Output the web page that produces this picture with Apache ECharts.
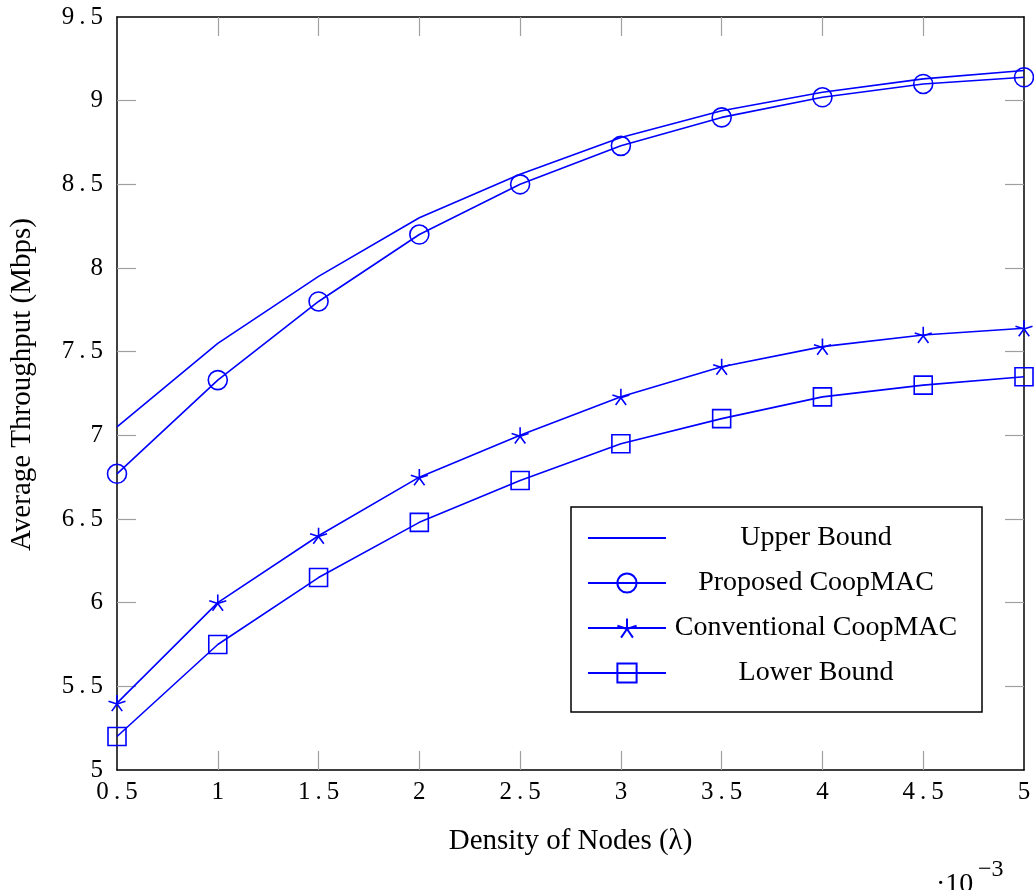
<!DOCTYPE html>
<html>
<head>
<meta charset="utf-8">
<script src="https://cdn.jsdelivr.net/npm/echarts@6/dist/echarts.min.js"></script>
<style>
html,body{margin:0;padding:0;background:#fff;}
#chart{width:1034px;height:890px;}
</style>
</head>
<body>
<div id="chart"></div>
<script>
// ---- data ----
const densities = [0.5, 1, 1.5, 2, 2.5, 3, 3.5, 4, 4.5, 5];
const upperBound = [7.05, 7.55, 7.95, 8.30, 8.56, 8.78, 8.94, 9.05, 9.13, 9.18];
const proposedCoopMAC = [6.77, 7.33, 7.80, 8.20, 8.50, 8.73, 8.90, 9.02, 9.10, 9.14];
const conventionalCoopMAC = [5.40, 6.00, 6.40, 6.75, 7.00, 7.23, 7.41, 7.53, 7.60, 7.64];
const lowerBound = [5.20, 5.75, 6.15, 6.48, 6.73, 6.95, 7.10, 7.23, 7.30, 7.35];
const seriesNames = ['Upper Bound', 'Proposed CoopMAC', 'Conventional CoopMAC', 'Lower Bound'];
const yTickValues = [5, 5.5, 6, 6.5, 7, 7.5, 8, 8.5, 9, 9.5];
const xTickValues = [0.5, 1, 1.5, 2, 2.5, 3, 3.5, 4, 4.5, 5];

const pair = arr => densities.map((d, i) => [d, arr[i]]);
const BLUE = '#0000ff';
const SERIF = '"Liberation Serif", serif';
const STAR = 'path://M0 0L0 -10M0 0L9.51 -3.09M0 0L-9.51 -3.09M0 0L-5.88 8.09M0 0L5.88 8.09';
const fmt = v => String(v).replace('.', '\u2009.\u2009');
const interior = arr => arr.slice(1, -1);

const chart = echarts.init(document.getElementById('chart'), null, {renderer: 'canvas'});

const tickStyle = vals => ({show: true, inside: true, length: 19, customValues: interior(vals),
  lineStyle: {color: '#a0a0a0', width: 1.2}});
const axisLine = {show: true, onZero: false, lineStyle: {color: '#000', width: 1.5}};

function lineSeries(name, data, symbol, size) {
  return {
    name, type: 'line', data: pair(data),
    symbol: symbol || 'none', symbolSize: size || 0, symbolKeepAspect: true,
    showSymbol: !!symbol,
    lineStyle: {color: BLUE, width: 1.6},
    itemStyle: {color: 'transparent', borderColor: BLUE, borderWidth: 1.6},
    emphasis: {disabled: true},
    animation: false, z: 3
  };
}

const xMin = xTickValues[0], xMax = xTickValues[xTickValues.length - 1];
const yMin = yTickValues[0], yMax = yTickValues[yTickValues.length - 1];
const xStep = xTickValues[1] - xTickValues[0], yStep = yTickValues[1] - yTickValues[0];

chart.setOption({
  animation: false,
  backgroundColor: '#fff',
  grid: {left: 117, top: 17, right: 10, bottom: 120, containLabel: false},
  xAxis: [{
    type: 'value', min: xMin, max: xMax, interval: xStep,
    position: 'bottom',
    name: 'Density of Nodes (λ)', nameLocation: 'middle', nameGap: 57,
    nameTextStyle: {fontFamily: SERIF, fontSize: 29, color: '#000'},
    axisLine, axisTick: tickStyle(xTickValues), splitLine: {show: false},
    axisLabel: {fontFamily: SERIF, fontSize: 25, color: '#000', margin: 10, formatter: fmt}
  }, {
    type: 'value', min: xMin, max: xMax, interval: xStep,
    position: 'top', axisLine, axisTick: tickStyle(xTickValues), splitLine: {show: false},
    axisLabel: {show: false}
  }],
  yAxis: [{
    type: 'value', min: yMin, max: yMax, interval: yStep,
    position: 'left',
    name: 'Average Throughput (Mbps)', nameLocation: 'middle', nameGap: 80, nameRotate: 90,
    nameTextStyle: {fontFamily: SERIF, fontSize: 29, color: '#000', padding: [0, 0, 0, 18]},
    axisLine, axisTick: tickStyle(yTickValues), splitLine: {show: false},
    axisLabel: {fontFamily: SERIF, fontSize: 25, color: '#000', margin: 14, formatter: fmt}
  }, {
    type: 'value', min: yMin, max: yMax, interval: yStep,
    position: 'right', axisLine, axisTick: tickStyle(yTickValues), splitLine: {show: false},
    axisLabel: {show: false}
  }],
  legend: {
    orient: 'vertical', left: 571, top: 507,
    padding: [17, 21, 25, 16],
    itemWidth: 78, itemHeight: 24, itemGap: 17,
    backgroundColor: '#fff', borderColor: '#000', borderWidth: 1.5,
    data: [
      {name: seriesNames[0], itemStyle: {color: 'transparent', borderColor: 'transparent', borderWidth: 0}},
      {name: seriesNames[1]},
      {name: seriesNames[2]},
      {name: seriesNames[3]}
    ],
    formatter: name => '{a|' + name + '}',
    textStyle: {
      fontFamily: SERIF, fontSize: 28, color: '#000',
      rich: {a: {fontFamily: SERIF, fontSize: 28, width: 290, align: 'center', lineHeight: 24}}
    },
    selectedMode: false
  },
  series: [
    lineSeries(seriesNames[0], upperBound),
    lineSeries(seriesNames[1], proposedCoopMAC, 'circle', 19),
    lineSeries(seriesNames[2], conventionalCoopMAC, STAR, 17),
    lineSeries(seriesNames[3], lowerBound, 'rect', 18)
  ],
  graphic: [
    {type: 'text', left: 936, top: 871, style: {text: '·10', fontFamily: SERIF, fontSize: 28, fill: '#000'}},
    {type: 'text', left: 978, top: 858, style: {text: '−3', fontFamily: SERIF, fontSize: 24, fill: '#000'}}
  ]
});
</script>
</body>
</html>
